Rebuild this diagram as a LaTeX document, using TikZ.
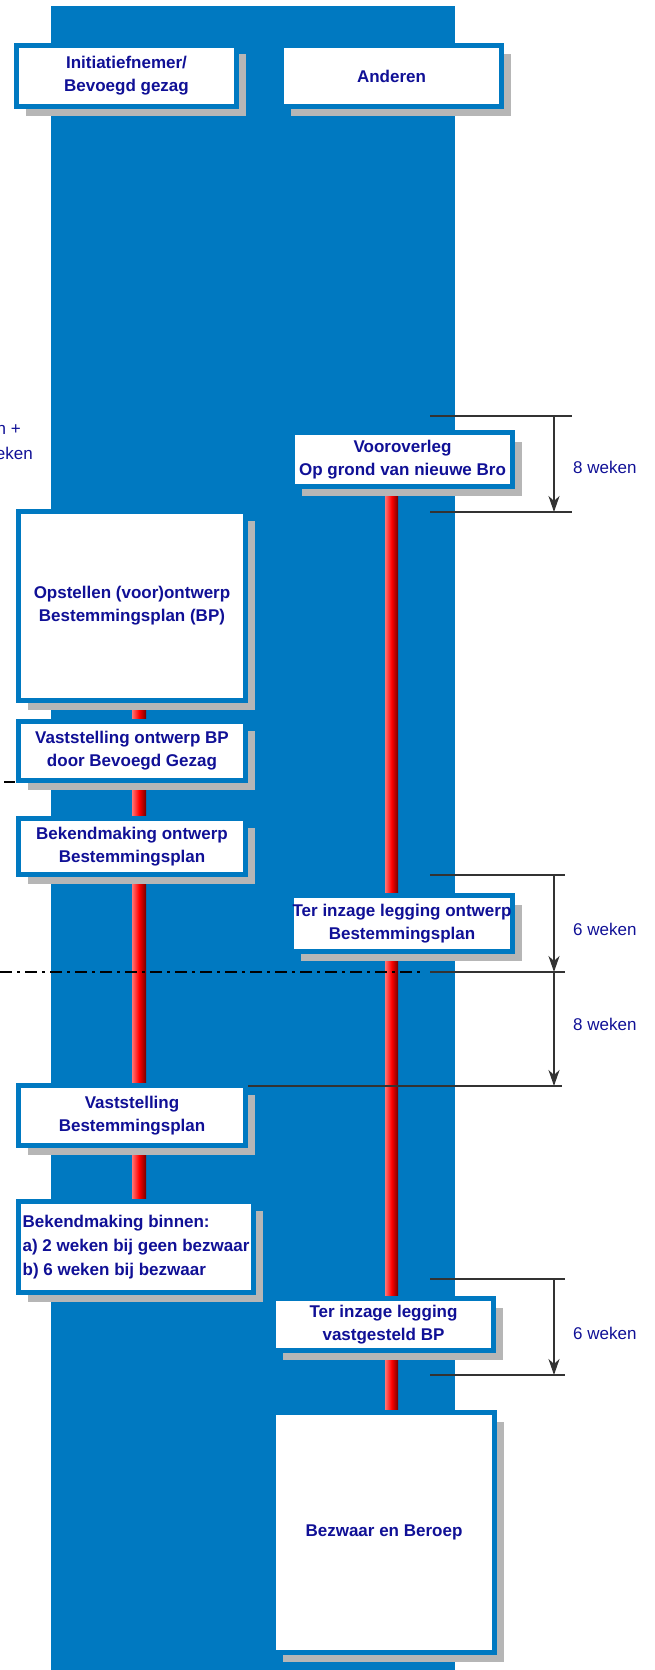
\documentclass[tikz,border=0pt]{standalone}
\usepackage{fontspec}
\setmainfont{Liberation Sans}
\usetikzlibrary{shadows,arrows.meta}

\definecolor{bandblue}{RGB}{0,121,193}
\definecolor{textnavy}{RGB}{16,16,150}
\definecolor{shadowgray}{RGB}{182,182,182}
\definecolor{dimgray}{RGB}{51,51,51}

\pgfdeclarelayer{band}
\pgfdeclarelayer{bars}
\pgfsetlayers{band,bars,main}

\begin{document}
\begin{tikzpicture}[
  stage/.style={draw=bandblue, line width=5pt, fill=white, text=textnavy,
    font=\bfseries\fontsize{17}{23}\selectfont, align=center, inner sep=2pt,
    drop shadow={shadow xshift=9pt, shadow yshift=-9pt, fill=shadowgray, opacity=1}},
  redbar/.style={left color=red!55, right color=red!45!black, middle color=red},
  dimline/.style={draw=dimgray, line width=2pt},
  dimarrow/.style={dimline, -{Stealth[length=16pt,width=11pt,inset=5pt]}},
  weken/.style={anchor=west, text=textnavy, font=\fontsize{17}{21}\selectfont, inner sep=0pt}
  ]

  \useasboundingbox (0pt,0pt) rectangle (654pt,-1670pt);

  \begin{pgfonlayer}{band}
    \fill[bandblue] (51pt,-6pt) rectangle (455pt,-1670pt);
  \end{pgfonlayer}

  % column heads
  \node[stage, minimum width=220pt, minimum height=61pt] (init) at (126.5pt,-76pt)
    {Initiatiefnemer/\\Bevoegd gezag};
  \node[stage, minimum width=220pt, minimum height=61pt] (anderen) at (391.5pt,-76pt)
    {Anderen};

  % steps
  \node[stage, minimum width=220pt, minimum height=54pt] (voor) at (402.5pt,-459.5pt)
    {Vooroverleg\\Op grond van nieuwe Bro};
  \node[stage, minimum width=227pt, minimum height=189pt] (opst) at (132pt,-606pt)
    {Opstellen (voor)ontwerp\\Bestemmingsplan (BP)};
  \node[stage, minimum width=227pt, minimum height=59pt] (vastontw) at (132pt,-751pt)
    {Vaststelling ontwerp BP\\door Bevoegd Gezag};
  \node[stage, minimum width=227pt, minimum height=56pt] (bekontw) at (132pt,-846.5pt)
    {Bekendmaking ontwerp\\Bestemmingsplan};
  \node[stage, inner xsep=0pt, minimum width=221pt, minimum height=56pt] (terontw) at (402pt,-923.5pt)
    {Ter inzage legging ontwerp\\Bestemmingsplan};
  \node[stage, minimum width=227pt, minimum height=60pt] (vastbp) at (132pt,-1115.5pt)
    {Vaststelling\\Bestemmingsplan};
  \node[stage, align=left, inner xsep=0pt, minimum width=235pt, minimum height=91pt,
    font=\bfseries\fontsize{17}{24}\selectfont] (binnen) at (136pt,-1247pt)
    {Bekendmaking binnen:\\a) 2 weken bij geen bezwaar\\b) 6 weken bij bezwaar};
  \node[stage, minimum width=220pt, minimum height=52pt] (tervast) at (383.5pt,-1324.5pt)
    {Ter inzage legging\\vastgesteld BP};
  \node[stage, minimum width=221pt, minimum height=240pt] (bezwaar) at (384pt,-1532.5pt)
    {Bezwaar en Beroep};

  % red time lines
  \begin{pgfonlayer}{bars}
    \shade[redbar] (opst.south) rectangle ([xshift=10pt]binnen.north);
    \shade[redbar] ([xshift=-17.5pt]voor.south) rectangle ([xshift=14pt]bezwaar.north);
  \end{pgfonlayer}

  % term marks
  \coordinate (lft) at (0pt,0pt);
  \coordinate (m1) at (554pt,-416pt);
  \coordinate (m2) at (554pt,-512pt);
  \coordinate (m3) at (554pt,-875pt);
  \coordinate (m4) at (554pt,-972pt);
  \coordinate (m5) at (554pt,-1086pt);
  \coordinate (m6) at (554pt,-1279pt);
  \coordinate (m7) at (554pt,-1375pt);
  \coordinate (tick) at (4pt,-782pt);

  \draw[dimline] ([xshift=-124pt]m1) -- ([xshift=18pt]m1);
  \draw[dimline] ([xshift=-124pt]m2) -- ([xshift=18pt]m2);
  \draw[dimarrow] (m1) -- (m2);
  \node[weken] (w1) at (573pt,-467pt) {8 weken};

  \draw[dimline] ([xshift=-124pt]m3) -- ([xshift=11pt]m3);
  \draw[dimline] ([xshift=-124pt]m4) -- ([xshift=11pt]m4);
  \draw[dimline] (vastbp.east |- m5) -- ([xshift=8pt]m5);
  \draw[dimarrow] (m3) -- (m4);
  \draw[dimarrow] (m4) -- (m5);
  \node[weken] (w2) at (573pt,-929pt) {6 weken};
  \node[weken] (w3) at (573pt,-1024pt) {8 weken};

  \draw[dimline] ([xshift=-124pt]m6) -- ([xshift=11pt]m6);
  \draw[dimline] ([xshift=-124pt]m7) -- ([xshift=11pt]m7);
  \draw[dimarrow] (m6) -- (m7);
  \node[weken] (w4) at (573pt,-1333pt) {6 weken};

  \draw[line width=2pt, dash pattern=on 12pt off 5pt on 3pt off 5pt]
    (lft |- m4) -- ([xshift=-131pt]m4);
  \draw[line width=2pt] (tick) -- ++(11pt,0pt);

  % cut off at the left edge
  \node[weken, anchor=east] (cut1) at (21pt,-430pt) {n +};
  \node[weken, anchor=east] (cut2) at (33pt,-453pt) {eken};

\end{tikzpicture}
\end{document}
